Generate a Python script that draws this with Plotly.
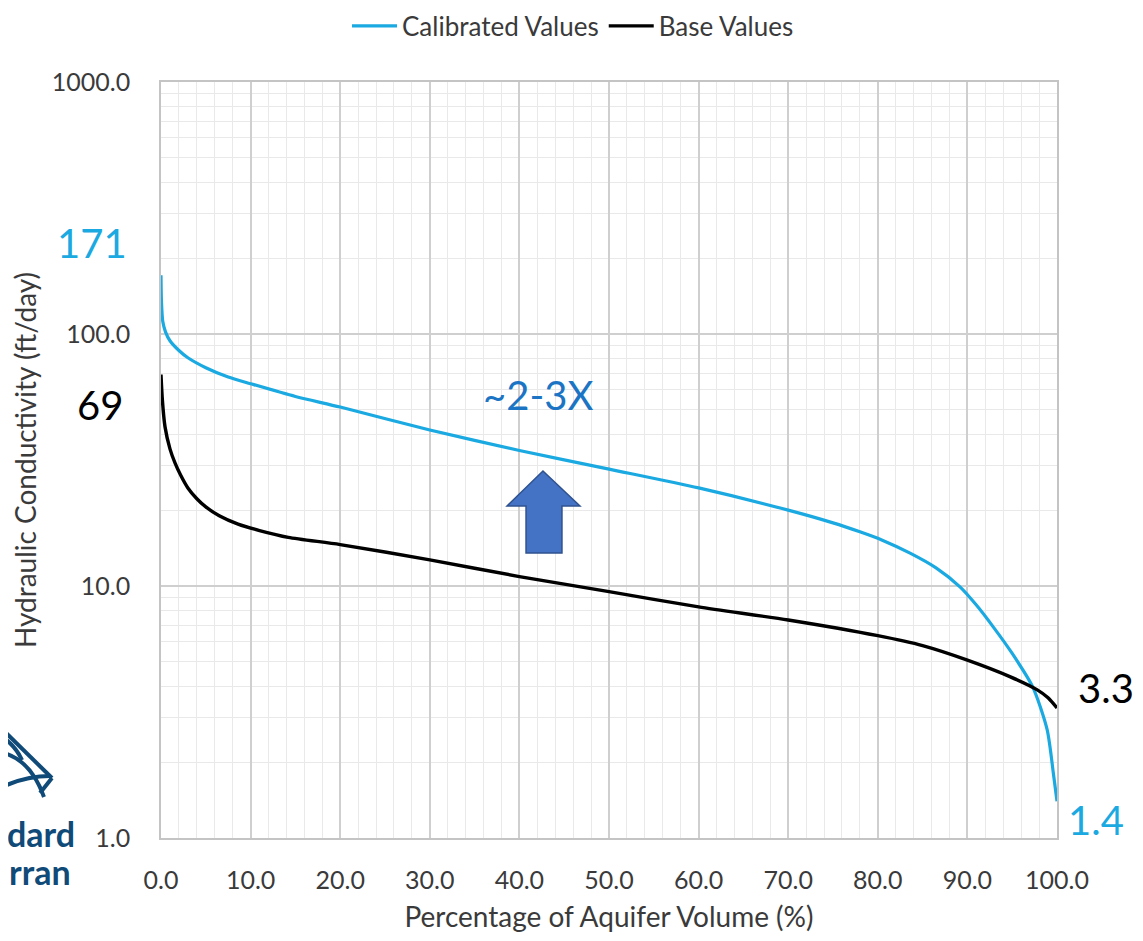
import plotly.graph_objects as go

# ---- data ----
cal_x = [0, 0.05, 0.2, 0.5, 1, 2, 3, 5, 7.5, 10, 15, 20, 30, 40, 50, 60, 70, 75, 78,
         80.5, 83.6, 86.5, 89.2, 91, 92.9, 95, 97.3, 98.9, 99.6, 100]
cal_y = [171, 135, 112, 102, 94, 86, 80.5, 73.5, 67.5, 63.5, 56.5, 51.3, 41.6, 34.5, 29.1, 24.5, 20.0, 17.8, 16.4,
         15.2, 13.5, 11.8, 9.9, 8.4, 6.87, 5.4, 3.97, 2.69, 1.8, 1.4]

base_x = [0, 0.15, 0.45, 1, 1.56, 2.2, 3, 4, 5, 6.5, 8.6, 11, 14.2, 20, 30, 40, 50, 60, 70,
          80, 85, 90, 94.8, 97.8, 99, 100]
base_y = [69, 55, 42.8, 35, 30.8, 27.5, 24.5, 22.2, 20.6, 19.0, 17.6, 16.6, 15.6, 14.6, 12.7, 10.9, 9.5, 8.26, 7.33,
          6.35, 5.8, 5.08, 4.36, 3.87, 3.6, 3.28]

series_names = ["Calibrated Values", "Base Values"]
x_ticks = [0, 10, 20, 30, 40, 50, 60, 70, 80, 90, 100]
y_ticks = [1, 10, 100, 1000]

FONT = "Lato, 'Open Sans', sans-serif"
BLUE = "#1BA9E1"
TXT = "#3a3a3a"

# screen offset caused by the page's default body margin
OFF = 8
W, H = 1143 - 2 * OFF, 941 - 2 * OFF

fig = go.Figure()
fig.add_trace(go.Scatter(x=cal_x, y=cal_y, mode="lines", name=series_names[0],
                         line=dict(color=BLUE, width=3.2, shape="spline", smoothing=0.7)))
fig.add_trace(go.Scatter(x=base_x, y=base_y, mode="lines", name=series_names[1],
                         line=dict(color="#000000", width=3.4, shape="spline", smoothing=0.7)))

# plot area in screen pixels: left 161, right 1057, top 82, bottom 838
L, R, T, B = 161, 1057, 82, 838
def px(xp, yp):
    return ((xp - L) / (R - L), (B - yp) / (B - T))

fig.update_layout(
    width=W, height=H,
    margin=dict(l=L - OFF, r=W - (R - OFF), t=T - OFF, b=H - (B - OFF)),
    paper_bgcolor="white", plot_bgcolor="white",
    font=dict(family=FONT, color=TXT, size=25),
    showlegend=True,
    legend=dict(orientation="h", xref="container", yref="container",
                x=(573 - OFF) / W, xanchor="center", y=1 - 18 / H, yanchor="middle",
                font=dict(size=26, color=TXT), itemwidth=45,
                bgcolor="rgba(0,0,0,0)"),
    xaxis=dict(range=[0, 100], tickvals=x_ticks, automargin=False,
               ticktext=[f"{v:.1f}" for v in x_ticks],
               showgrid=True, gridcolor="#cfcfcf", gridwidth=1.5,
               minor=dict(dtick=2, showgrid=True, gridcolor="#e9e9e9", gridwidth=1.2),
               showline=True, linecolor="#c4c4c4", linewidth=1.5, mirror=True,
               zeroline=False, ticks="outside", ticklen=19, tickcolor="rgba(0,0,0,0)",
               tickfont=dict(size=25, color=TXT),
               title=dict(text="Percentage of Aquifer Volume (%)", standoff=35,
                          font=dict(size=28, color=TXT))),
    yaxis=dict(type="log", range=[0, 3], tickvals=y_ticks, automargin=False,
               ticktext=[f"{v:.1f}" for v in y_ticks],
               showgrid=True, gridcolor="#cfcfcf", gridwidth=1.5,
               minor=dict(dtick="D1", showgrid=True, gridcolor="#e9e9e9", gridwidth=1.2),
               showline=True, linecolor="#c4c4c4", linewidth=1.5, mirror=True,
               zeroline=False, ticks="outside", ticklen=24, tickcolor="rgba(0,0,0,0)",
               tickfont=dict(size=25, color=TXT),
               title=dict(text="Hydraulic Conductivity (ft/day)", standoff=30,
                          font=dict(size=28, color=TXT))),
)

def ann(text, xp, yp, color, size=40, xanchor="center", bold=False):
    x, y = px(xp, yp)
    fig.add_annotation(text=("<b>%s</b>" % text) if bold else text,
                       x=x, y=y, xref="paper", yref="paper",
                       showarrow=False, xanchor=xanchor, yanchor="middle",
                       font=dict(size=size, color=color, family=FONT))

ann("171", 92, 243, BLUE)
ann("69", 100, 405, "#000000")
ann("~2-3X", 538, 395, "#1B75C4")
ann("3.3", 1106, 688, "#000000")
ann("1.4", 1096, 820, BLUE)

# block arrow
pts = [(543, 471), (580, 506), (562, 506), (562, 553), (526, 553), (526, 506), (507, 506)]
path = "M " + " L ".join("%.4f,%.4f" % px(a, b) for a, b in pts) + " Z"
fig.add_shape(type="path", path=path, xref="paper", yref="paper",
              fillcolor="#4472C4", line=dict(color="#2F528F", width=1.5))

# partial logo at bottom-left
NAVY = "#0F4A78"
ann("dard", 77, 833, NAVY, size=34, xanchor="right", bold=True)
ann("rran", 73, 872, NAVY, size=34, xanchor="right", bold=True)
for seg in [
    [(0, 727), (52, 778)],
    [(52, 778), (40, 793)],
]:
    p = "M " + " L ".join("%.4f,%.4f" % px(a, b) for a, b in seg)
    fig.add_shape(type="path", path=p, xref="paper", yref="paper",
                  line=dict(color=NAVY, width=4))
for a, c, b in [((0, 752), (30, 758), (44, 797)), ((0, 788), (25, 776), (50, 776)),
                ((0, 735), (15, 745), (22, 760))]:
    p = "M %.4f,%.4f Q %.4f,%.4f %.4f,%.4f" % (*px(*a), *px(*c), *px(*b))
    fig.add_shape(type="path", path=p, xref="paper", yref="paper",
                  line=dict(color=NAVY, width=4))

fig.write_html("out.html")
